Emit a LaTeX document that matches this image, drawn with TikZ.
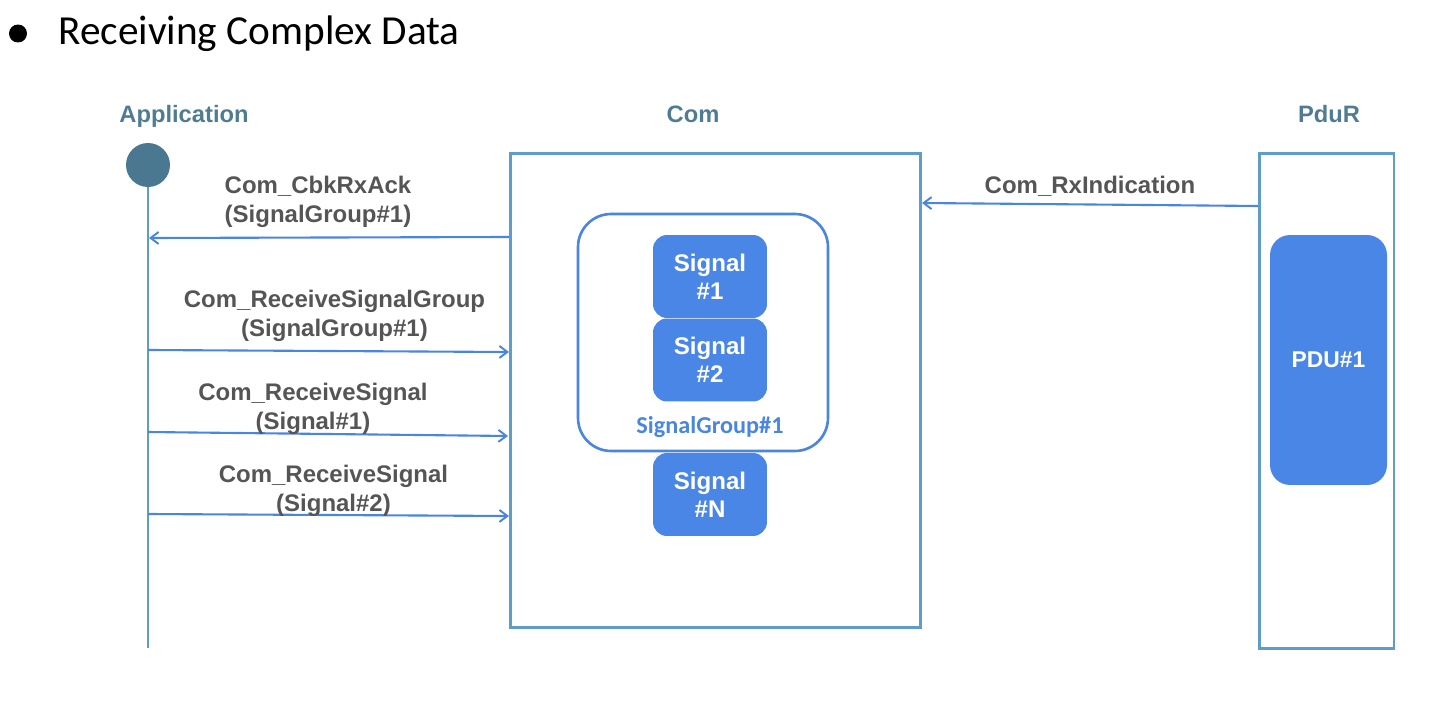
\documentclass[tikz,border=0pt]{standalone}
\usepackage{fontspec}
\setmainfont{Liberation Sans}
\newfontfamily\calibri{Carlito}
\usetikzlibrary{arrows.meta}
\definecolor{lifeBlue}{HTML}{5E9DC9}
\definecolor{callBlue}{HTML}{4A86E0}
\definecolor{actorTeal}{HTML}{4A7891}
\definecolor{titleTeal}{HTML}{4F7C93}
\definecolor{labelGray}{HTML}{555555}
\definecolor{sigBlue}{HTML}{4A86E5}
\tikzset{
    EMPTY/.style={minimum size=0mm, inner sep=0mm, outer sep=0mm},
    BULLET/.style={shape=circle, fill=black, minimum size=0.36cm, inner sep=0mm},
    TITLE/.style={inner sep=0mm, font={\calibri\fontsize{23.5}{28}\selectfont}},
    ACTOR_TITLE/.style={inner sep=0mm, text=titleTeal,
        font={\fontsize{13.5}{16}\selectfont\bfseries}},
    ACTOR_DOT/.style={shape=circle, fill=actorTeal, minimum size=0.88cm, inner sep=0mm},
    LAYER_BOX/.style={draw=lifeBlue, line width=1.7pt, shape=rectangle, inner sep=0mm},
    GROUP_BOX/.style={draw=callBlue, line width=1.5pt, shape=rectangle,
        rounded corners=0.66cm, inner sep=0mm},
    GROUP_TITLE/.style={inner sep=0mm, text=callBlue,
        font={\calibri\fontsize{13.8}{16}\selectfont\bfseries}},
    SIGNAL_BOX/.style={fill=sigBlue, shape=rectangle, rounded corners=0.28cm,
        minimum width=2.28cm, minimum height=1.66cm, inner sep=0mm, align=center,
        text=white, font={\fontsize{13.7}{15.9}\selectfont\bfseries}},
    PDU_BOX/.style={SIGNAL_BOX, rounded corners=0.4cm,
        minimum width=2.34cm, minimum height=5cm, font={\fontsize{13}{15}\selectfont\bfseries}},
    CALL_LABEL/.style={inner sep=0mm, align=center, text=labelGray,
        font={\fontsize{13.65}{16.4}\selectfont\bfseries}},
    LIFELINE/.style={draw=lifeBlue, line width=1.5pt},
    CALL_EDGE/.style={draw=callBlue, line width=1.2pt,
        -{Straight Barb[length=0.16cm, width=0.24cm, line width=1.1pt]}}
}
\pgfdeclarelayer{edgelayer}
\pgfdeclarelayer{nodelayer}
\pgfsetlayers{edgelayer,nodelayer,main}

\begin{document}
\begin{tikzpicture}[x=0.02cm, y=-0.02cm]
    \useasboundingbox (0,0) rectangle (1441,706);
    \begin{pgfonlayer}{nodelayer}
        \node [BULLET] (1) at (18,33.5) {};
        \node [TITLE, anchor=base west] (2) at (58,45) {Receiving Complex Data};
        \node [ACTOR_TITLE, anchor=base] (3) at (184,123) {Application};
        \node [ACTOR_TITLE, anchor=base] (4) at (693,123) {Com};
        \node [ACTOR_TITLE, anchor=base] (5) at (1329,123) {PduR};
        \node [ACTOR_DOT] (6) at (148,165) {};
        \node [EMPTY] (7) at (148,648) {};
        \node [LAYER_BOX, minimum width=8.22cm, minimum height=9.5cm] (8) at (715.5,390.5) {};
        \node [LAYER_BOX, minimum width=2.7cm, minimum height=9.92cm] (9) at (1326.5,401) {};
        \node [GROUP_BOX, minimum width=5cm, minimum height=4.74cm] (10) at (703,332.5) {};
        \node [SIGNAL_BOX] (11) at (710,276.5) {Signal\\\#1};
        \node [SIGNAL_BOX] (12) at (710,360) {Signal\\\#2};
        \node [SIGNAL_BOX] (13) at (710,494.5) {Signal\\\#N};
        \node [GROUP_TITLE, anchor=base] (14) at (710,433) {SignalGroup\#1};
        \node [PDU_BOX] (15) at (1328.5,360) {PDU\#1};
        \node [EMPTY] (16) at (1259,206) {};
        \node [EMPTY] (17) at (922,203) {};
        \node [EMPTY] (18) at (510,237) {};
        \node [EMPTY] (19) at (149,238) {};
        \node [EMPTY] (20) at (148,350) {};
        \node [EMPTY] (21) at (509,352) {};
        \node [EMPTY] (22) at (148,432) {};
        \node [EMPTY] (23) at (508,436) {};
        \node [EMPTY] (24) at (148,514) {};
        \node [EMPTY] (25) at (509,516) {};
        \node [CALL_LABEL] (26) at (1090,186) {Com\_RxIndication};
        \node [CALL_LABEL] (27) at (318,202) {Com\_CbkRxAck\\(SignalGroup\#1)};
        \node [CALL_LABEL] (28) at (334.5,316) {Com\_ReceiveSignalGroup\\(SignalGroup\#1)};
        \node [CALL_LABEL] (29) at (313,409) {Com\_ReceiveSignal\\(Signal\#1)};
        \node [CALL_LABEL] (30) at (333.5,491) {Com\_ReceiveSignal\\(Signal\#2)};
    \end{pgfonlayer}
    \begin{pgfonlayer}{edgelayer}
        \draw[LIFELINE] (6) to (7);
        \draw[CALL_EDGE] (16) to (17);
        \draw[CALL_EDGE] (18) to (19);
        \draw[CALL_EDGE] (20) to (21);
        \draw[CALL_EDGE] (22) to (23);
        \draw[CALL_EDGE] (24) to (25);
    \end{pgfonlayer}
\end{tikzpicture}
\end{document}
